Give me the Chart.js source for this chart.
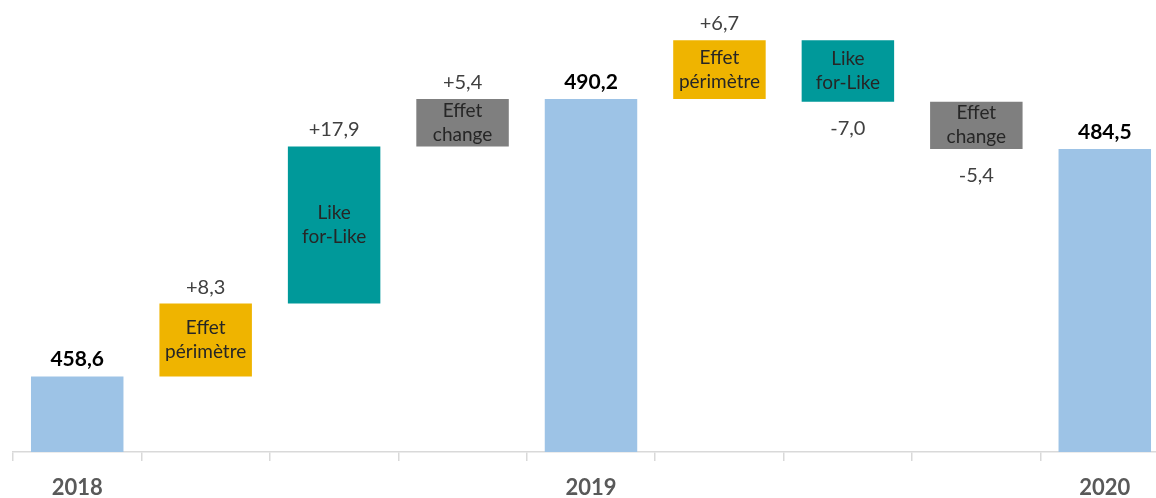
<!DOCTYPE html>
<html>
<head>
<meta charset="utf-8">
<script src="https://cdn.jsdelivr.net/npm/chart.js@4.4.1/dist/chart.umd.min.js"></script>
<style>
    html, body { margin: 0; padding: 0; background: #fff; overflow: hidden; }
    #wrap { width: 1170px; height: 498px; }
</style>
</head>
<body>
<div id="wrap"><canvas id="waterfall" width="1170" height="498"></canvas></div>
<script>
// Data
const categories = ['2018', '', '', '', '2019', '', '', '', '2020'];
const values = [458.6, 8.3, 17.9, 5.4, 490.2, 6.7, -7.0, -5.4, 484.5];
const kinds = ['total', 'perim', 'lfl', 'change', 'total', 'perim', 'lfl', 'change', 'total'];
const innerLabels = {
    perim: ['Effet', 'périmètre'],
    lfl: ['Like', 'for-Like'],
    change: ['Effet', 'change']
};
const yMin = 450;
const yMax = 500;

const colors = {
    total: '#9DC3E6',
    perim: '#EFB400',
    lfl: '#00999A',
    change: '#7F7F7F'
};

const FONT = 'Lato, "Open Sans", sans-serif';

// build floating ranges from running total
function buildRanges() {
    let running = 0;
    return values.map((v, i) => {
        if (kinds[i] === 'total') {
            running = v;
            return [yMin, v];
        }
        const start = running;
        running = +(running + v).toFixed(1);
        return [start, running];
    });
}
const ranges = buildRanges();

function fmt(v, isTotal) {
    const s = Math.abs(v).toFixed(1).replace('.', ',');
    if (isTotal) return s;
    return (v >= 0 ? '+' : '-') + s;
}

const labelPlugin = {
    id: 'barLabels',
    afterDatasetsDraw(chart) {
        const ctx = chart.ctx;
        const meta = chart.getDatasetMeta(0);
        const y = chart.scales.y;
        ctx.save();
        ctx.textAlign = 'center';
        ctx.textBaseline = 'alphabetic';
        meta.data.forEach((bar, i) => {
            const lo = Math.min(ranges[i][0], ranges[i][1]);
            const hi = Math.max(ranges[i][0], ranges[i][1]);
            const top = y.getPixelForValue(hi);
            const bottom = y.getPixelForValue(lo);
            const isTotal = kinds[i] === 'total';

            // value label
            if (isTotal) {
                ctx.font = 'bold 21px ' + FONT;
                ctx.fillStyle = '#000000';
                ctx.fillText(fmt(values[i], true), bar.x, top - 10);
            } else {
                ctx.font = '20px ' + FONT;
                ctx.fillStyle = '#404040';
                if (values[i] >= 0) {
                    ctx.fillText(fmt(values[i], false), bar.x, top - 10);
                } else {
                    ctx.fillText(fmt(values[i], false), bar.x, bottom + 33);
                }
                // inner label
                const lines = innerLabels[kinds[i]];
                const mid = (top + bottom) / 2;
                ctx.font = '19px ' + FONT;
                ctx.fillStyle = '#262626';
                ctx.fillText(lines[0], bar.x, mid - 6);
                ctx.fillText(lines[1], bar.x, mid + 18);
            }
        });
        ctx.restore();
    }
};

new Chart(document.getElementById('waterfall'), {
    type: 'bar',
    data: {
        labels: categories,
        datasets: [{
            data: ranges,
            backgroundColor: kinds.map(k => colors[k]),
            borderWidth: 0,
            barPercentage: 0.72,
            categoryPercentage: 1.0
        }]
    },
    options: {
        responsive: false,
        animation: false,
        devicePixelRatio: 1,
        layout: {
            padding: { left: 13, right: 1, top: 13, bottom: -17 }
        },
        plugins: {
            legend: { display: false },
            tooltip: { enabled: false }
        },
        scales: {
            x: {
                grid: {
                    offset: true,
                    drawOnChartArea: false,
                    drawTicks: true,
                    tickLength: 9,
                    color: '#D9D9D9',
                    lineWidth: 1.5
                },
                border: { display: true, color: '#D9D9D9', width: 1.5 },
                ticks: {
                    autoSkip: false,
                    maxRotation: 0,
                    padding: 16,
                    color: '#595959',
                    font: { family: FONT, size: 22, weight: 'bold', lineHeight: 1 }
                }
            },
            y: {
                display: false,
                min: yMin,
                max: yMax
            }
        }
    },
    plugins: [labelPlugin]
});
</script>
</body>
</html>
